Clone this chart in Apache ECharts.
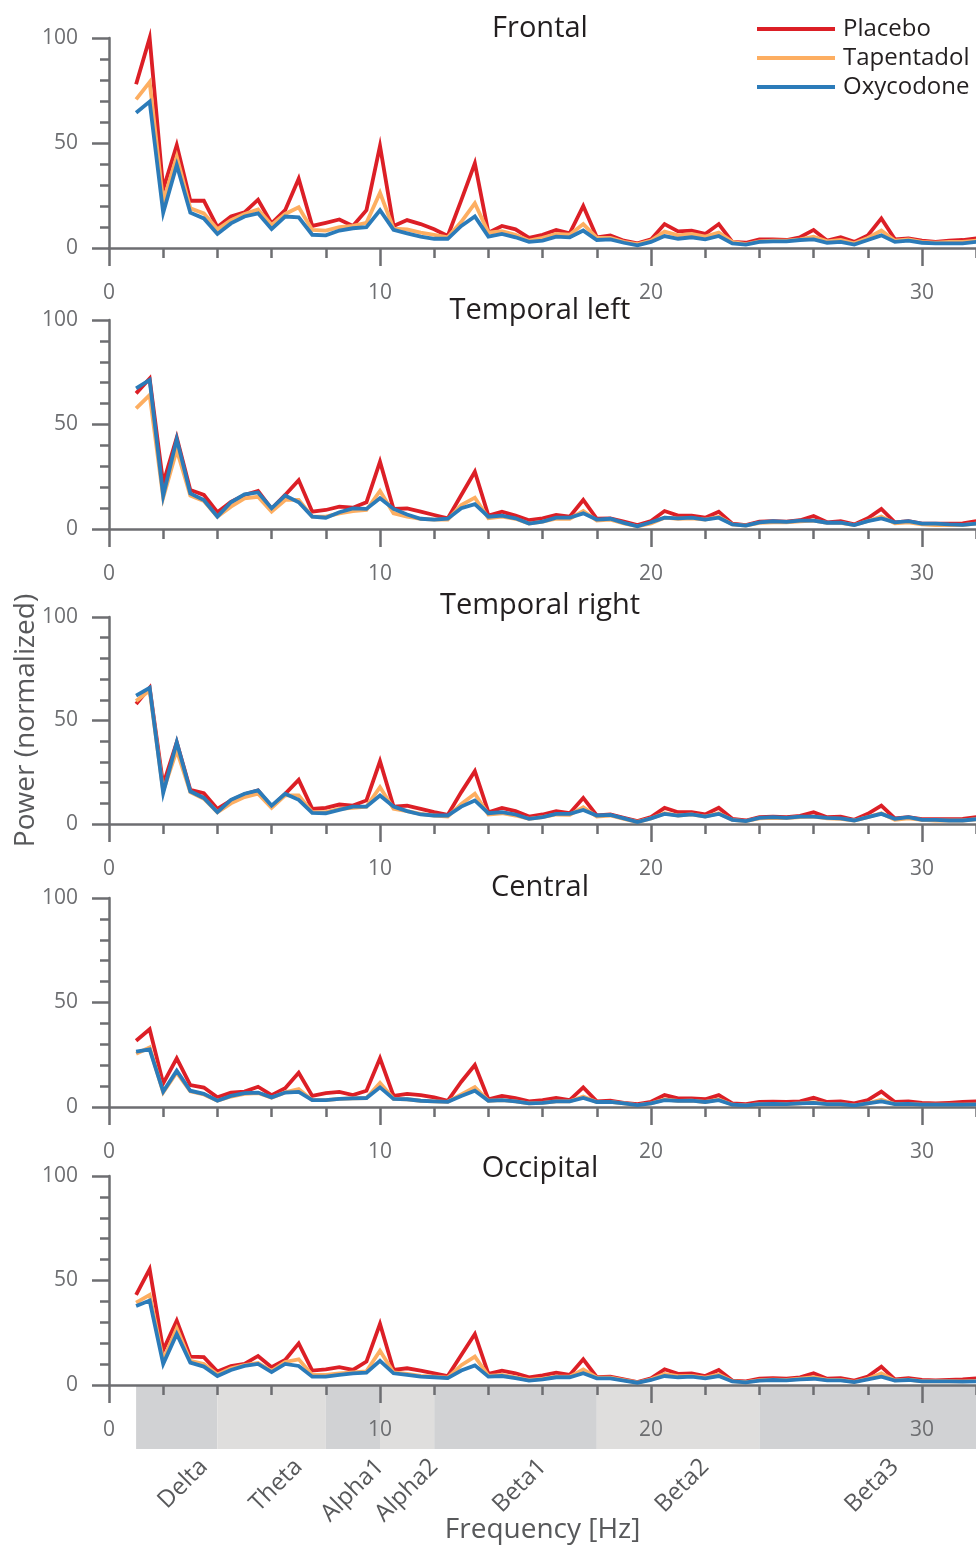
<!DOCTYPE html>
<html>
<head>
<meta charset="utf-8">
<script src="https://cdn.jsdelivr.net/npm/echarts@6/dist/echarts.min.js"></script>
<style>
  html, body { margin: 0; padding: 0; background: #fff; }
  #chart { width: 976px; height: 1546px; }
</style>
</head>
<body>
<div id="chart"></div>
<script>
// frequency bins [Hz]
const freqs = [1, 1.5, 2, 2.5, 3, 3.5, 4, 4.5, 5, 5.5,
  6, 6.5, 7, 7.5, 8, 8.5, 9, 9.5, 10, 10.5,
  11, 11.5, 12, 12.5, 13, 13.5, 14, 14.5, 15, 15.5,
  16, 16.5, 17, 17.5, 18, 18.5, 19, 19.5, 20, 20.5,
  21, 21.5, 22, 22.5, 23, 23.5, 24, 24.5, 25, 25.5,
  26, 26.5, 27, 27.5, 28, 28.5, 29, 29.5, 30, 30.5,
  31, 31.5, 32];

const regions = ['Frontal', 'Temporal left', 'Temporal right', 'Central', 'Occipital'];
const drugs = ['Placebo', 'Tapentadol', 'Oxycodone'];

const frontalPlacebo = [78, 100, 28, 49, 22.5, 22.5, 10, 15, 17, 23,
  11.7, 18, 33, 10.5, 12, 13.6, 10.5, 18, 48.6, 10.5,
  13.3, 11.4, 8.9, 5.7, 22.8, 40.3, 7.3, 10.5, 8.9, 4.8,
  6.3, 8.6, 7, 20, 5.1, 6, 3.5, 2.2, 4.1, 11.4,
  7.9, 8.3, 6.7, 11.4, 2.9, 2.5, 4.1, 4.1, 3.8, 5.1,
  8.6, 3.5, 5.1, 2.9, 6, 14.1, 4.1, 4.6, 3.5, 2.9,
  3.5, 3.8, 4.6];
const frontalTapentadol = [70.8, 79, 22, 43.5, 18.9, 16.5, 8.9, 13.3, 16.2, 18.4,
  11, 16.2, 19.4, 8.6, 8.3, 9.9, 10.5, 12, 26.3, 9.2,
  8.9, 7.3, 6.3, 5.1, 12.5, 21.3, 7.3, 8, 6.3, 3.5,
  4.8, 6.7, 6.3, 11.4, 4.8, 4.8, 2.9, 1.9, 3.5, 7.8,
  6, 6.7, 5.4, 7.3, 2.9, 1.9, 3.2, 3.5, 3.5, 4.1,
  5.4, 3.2, 3.8, 2.2, 4.8, 8.3, 3.5, 4.1, 2.9, 2.5,
  2.9, 2.9, 3.5];
const frontalOxycodone = [64.4, 69.7, 16.8, 39.5, 16.8, 14.1, 6.7, 11.7, 15, 16.5,
  9, 15, 14.6, 6.3, 6, 8.3, 9.4, 9.9, 18, 8.6,
  7, 5.4, 4.4, 4.4, 10.5, 15, 5.4, 6.7, 5.1, 2.9,
  3.5, 5.4, 5.1, 8.3, 3.8, 4.1, 2.5, 1.3, 2.9, 5.7,
  4.4, 5.1, 4.1, 5.7, 2.2, 1.6, 2.9, 3.2, 3.2, 3.8,
  4.1, 2.5, 2.9, 1.6, 3.8, 6, 2.9, 3.5, 2.5, 2.2,
  2.2, 2.2, 2.9];

const temporalLeftPlacebo = [64.9, 72, 21.9, 43.7, 18.7, 16.3, 8, 13, 16.3, 18.2,
  9.6, 16.3, 23.4, 8.3, 9.1, 10.7, 10.2, 12.8, 32.2, 9.6,
  9.9, 8.3, 6.7, 5.1, 16.3, 27.4, 6.4, 8.3, 6.4, 4.2,
  5.1, 6.7, 5.9, 13.9, 4.9, 5.1, 3.5, 1.9, 3.8, 8.6,
  6.4, 6.4, 5.4, 8.3, 2.6, 1.9, 3.5, 3.8, 3.5, 4.2,
  6.2, 3.2, 3.8, 2.2, 5.1, 9.6, 3.2, 3.8, 2.6, 2.6,
  2.6, 2.7, 3.8];
const temporalLeftTapentadol = [57.7, 64.1, 15, 37.8, 16, 13.4, 5.9, 10.7, 14.7, 15.4,
  8.3, 13.9, 13.9, 5.9, 5.9, 7.5, 8.6, 9.1, 18.2, 7.5,
  5.9, 4.9, 4.5, 4.5, 11.5, 15, 5.1, 5.9, 4.9, 2.6,
  3.5, 4.9, 4.9, 8.6, 4, 4.5, 2.7, 1.3, 2.7, 5.4,
  4.9, 5.1, 4.5, 5.9, 2.2, 1.6, 2.9, 3.2, 3.2, 3.7,
  4, 2.9, 2.9, 1.9, 3.8, 5.9, 2.7, 3.2, 2.2, 1.9,
  1.9, 1.9, 2.6];
const temporalLeftOxycodone = [67.3, 71.3, 16, 43, 17, 13.9, 5.9, 12.8, 16.6, 17.5,
  9.9, 16, 12.8, 5.9, 5.4, 8, 9.9, 9.6, 14.7, 9.6,
  6.9, 4.9, 4.5, 4.9, 9.9, 11.9, 5.9, 6.4, 5.1, 2.6,
  3.5, 5.4, 5.4, 7.5, 4.5, 4.9, 2.9, 1.3, 3.2, 5.4,
  5.1, 5.4, 4.5, 5.4, 2.2, 1.6, 3.2, 3.7, 3.4, 4,
  4, 3, 3, 1.9, 3.8, 5.1, 3.2, 3.8, 2.6, 2.6,
  2.2, 2, 2.6];

const temporalRightPlacebo = [58, 65.8, 19, 39.5, 16.5, 14.9, 7.3, 11.4, 14.3, 16.2,
  8.4, 14.6, 21.3, 7.3, 7.8, 9.4, 8.9, 11.4, 30.3, 8.4,
  8.9, 7.3, 5.7, 4.4, 15.4, 25.5, 5.7, 7.8, 6.2, 3.6,
  4.6, 6.2, 5.2, 12.6, 4.1, 4.6, 3, 1.4, 3.3, 7.8,
  5.7, 5.7, 4.6, 7.8, 2.5, 1.7, 3.3, 3.6, 3.3, 3.9,
  5.7, 3.3, 3.6, 2, 4.9, 8.9, 2.7, 3.3, 2.3, 2.3,
  2.3, 2.5, 3.3];
const temporalRightTapentadol = [59.4, 64.5, 16, 35.5, 15.4, 12.2, 5.7, 10, 13, 14.6,
  7.8, 13.8, 13.8, 5.7, 5.7, 7.3, 7.8, 8.4, 17.8, 7.3,
  6.2, 4.9, 4.1, 3.6, 9.7, 14.6, 4.6, 5.2, 4.1, 2.5,
  3.3, 4.6, 4.4, 8.1, 3.6, 4.1, 2.5, 1, 2.7, 5.2,
  4.1, 4.6, 3.6, 5.2, 2, 1.4, 2.7, 3, 2.8, 3.3,
  3.6, 2.7, 2.5, 1.7, 3.3, 5.2, 2, 2.7, 2, 1.7,
  1.7, 1.7, 2.3];
const temporalRightOxycodone = [62, 65.8, 15, 39.5, 15.8, 12.6, 5.7, 11.7, 14.6, 16.2,
  8.9, 14.6, 11.7, 5.4, 5.2, 6.8, 8.4, 8.4, 13.8, 8.4,
  6.2, 4.6, 4.1, 4.1, 8.4, 11.4, 5.2, 5.7, 4.6, 2.5,
  3.3, 4.9, 4.9, 6.8, 4.1, 4.4, 2.7, 0.9, 2.7, 4.9,
  4.1, 4.6, 3.6, 4.9, 2, 1.4, 3, 3.3, 3, 3.6,
  3.6, 3, 2.7, 1.7, 3.3, 4.9, 2.5, 3.3, 2, 2,
  1.7, 1.7, 2.3];

const centralPlacebo = [31.7, 37.2, 11.3, 23.3, 10.5, 9.3, 4.6, 6.9, 7.4, 9.7,
  5.7, 9, 16.4, 5.3, 6.6, 7.2, 5.7, 7.8, 23.3, 5.3,
  6.3, 5.7, 4.6, 3, 12.1, 20.1, 3.7, 5.3, 4.3, 2.7,
  3.3, 4.3, 3.3, 9.4, 2.7, 3, 2, 1.4, 2.5, 5.7,
  4.1, 4.1, 3.7, 5.7, 1.7, 1.4, 2.4, 2.5, 2.4, 2.7,
  4.4, 2.4, 2.7, 1.7, 3.3, 7.4, 2.4, 2.7, 2, 1.7,
  2, 2.4, 2.7];
const centralTapentadol = [25.5, 28.5, 7, 16.5, 7.5, 6, 3, 5, 6.3, 6.7,
  4.4, 7, 8.6, 3.3, 3.3, 3.9, 4.1, 4.3, 11.5, 3.9,
  3.7, 3, 2.7, 2.5, 6, 9.5, 3, 3.3, 2.7, 1.7,
  2, 2.7, 2.7, 5, 2.4, 2.4, 1.7, 0.9, 1.7, 3.6,
  2.9, 3, 2.4, 3.6, 1.1, 0.8, 1.4, 1.5, 1.4, 1.7,
  2.3, 1.4, 1.4, 0.8, 1.7, 3.5, 1.4, 1.5, 1.1, 1.1,
  1.1, 1.1, 1.3];
const centralOxycodone = [26.5, 27.6, 7.4, 17.4, 7.8, 6.3, 3, 5.3, 6.6, 6.9,
  4.6, 6.9, 7.2, 3.3, 3.3, 3.9, 4.1, 4.3, 9.4, 3.9,
  3.7, 3, 2.7, 2.5, 5.3, 7.8, 3, 3.3, 2.7, 1.7,
  2, 2.7, 2.7, 4.3, 2.4, 2.4, 1.7, 0.9, 1.7, 3.3,
  2.9, 3, 2.4, 3.3, 1.1, 0.8, 1.4, 1.5, 1.4, 1.7,
  2, 1.4, 1.4, 0.8, 1.7, 2.7, 1.4, 1.5, 1.1, 1.1,
  1.1, 1.1, 1.3];

const occipitalPlacebo = [43.1, 55.4, 16.7, 30.8, 13.6, 13.3, 6.4, 9.1, 10.1, 13.9,
  8.5, 12, 19.9, 6.9, 7.5, 8.5, 7.2, 11.2, 29.2, 7.2,
  8, 6.9, 5.6, 4.3, 14.4, 24.4, 5.3, 6.9, 5.6, 3.7,
  4.6, 5.9, 4.8, 12.3, 3.7, 4, 2.7, 1.4, 3.2, 7.5,
  5.3, 5.6, 4.3, 7.2, 2.1, 1.7, 3, 3.3, 3, 3.7,
  5.6, 3, 3.3, 2.1, 4, 8.8, 2.7, 3.3, 2.4, 2.2,
  2.4, 2.7, 3.2];
const occipitalTapentadol = [39.4, 43.1, 12, 27.1, 11.5, 10, 5, 8, 9.5, 10.5,
  6.8, 11, 12.3, 4.8, 4.8, 5.6, 6, 6.5, 16.4, 6,
  5.3, 4.4, 4, 3.5, 9.5, 13.6, 4.4, 4.8, 3.7, 2.4,
  3, 4, 4, 7.5, 3.5, 3.5, 2.3, 1.2, 2.7, 5.3,
  4.2, 4.4, 3.5, 5, 1.8, 1.4, 2.3, 2.6, 2.4, 3,
  3.7, 2.4, 2.4, 1.5, 3, 5.6, 2.2, 2.6, 1.8, 1.8,
  1.8, 1.7, 2];
const occipitalOxycodone = [37.8, 40.4, 10.1, 24.4, 10.7, 8.8, 4.3, 7.2, 9.1, 10.1,
  6.2, 10.1, 9.1, 4, 4, 4.8, 5.6, 5.9, 11.6, 5.6,
  4.8, 4, 3.7, 3.3, 6.9, 9.4, 4, 4.3, 3.3, 2.1,
  2.7, 3.7, 3.7, 5.6, 3.2, 3.2, 2.1, 1.1, 2.4, 4.3,
  3.7, 4, 3.2, 4.3, 1.7, 1.3, 2.1, 2.4, 2.2, 2.7,
  3, 2.2, 2.2, 1.4, 2.7, 4, 2.1, 2.4, 1.7, 1.7,
  1.7, 1.6, 1.7];

// EEG frequency bands [Hz]
const bandNames = ['Delta', 'Theta', 'Alpha1', 'Alpha2', 'Beta1', 'Beta2', 'Beta3'];
const bandStart = [1, 4, 8, 10, 12, 18, 24];
const bandEnd = [4, 8, 10, 12, 18, 24, 32];

const xTicks = [0, 10, 20, 30];
const yTicks = [0, 50, 100];

const panelData = [
  [frontalPlacebo, frontalTapentadol, frontalOxycodone],
  [temporalLeftPlacebo, temporalLeftTapentadol, temporalLeftOxycodone],
  [temporalRightPlacebo, temporalRightTapentadol, temporalRightOxycodone],
  [centralPlacebo, centralTapentadol, centralOxycodone],
  [occipitalPlacebo, occipitalTapentadol, occipitalOxycodone]
];

// layout
const colors = ['#dc1f26', '#fdae61', '#2b7bb9'];
const gray = '#6d6e71';
const darkText = '#231f20';
const nameGray = '#58595b';
const bandColors = ['#d1d2d4', '#dfdedd'];
const plotLeft = 109;
const pxPerHz = 27.1;
const xMax = 40;      // axis runs past the canvas edge, 32 Hz sits at the right border
const xVisible = 32;
const panelTop = [38, 320, 617, 898, 1176];
const panelHeight = [210, 209, 207, 209, 209];
const titleMid = [29, 311, 606, 888, 1169];
const labelShift = 1.0;

const chart = echarts.init(document.getElementById('chart'), null, { renderer: 'canvas' });

const grids = [];
const xAxes = [];
const yAxes = [];
const series = [];
const titles = [];

const tickLine = { color: gray, width: 2.5 };

regions.forEach((name, p) => {
  grids.push({
    left: plotLeft, top: panelTop[p],
    width: pxPerHz * xMax, height: panelHeight[p],
    outerBoundsMode: 'none', containLabel: false
  });
  xAxes.push({
    type: 'value', gridIndex: p, min: 0, max: xMax, interval: 10, z: 5,
    axisLine: { show: true, onZero: false, lineStyle: tickLine },
    axisTick: { show: true, length: 18, lineStyle: tickLine },
    minorTick: { show: true, splitNumber: 5, length: 10, lineStyle: tickLine },
    splitLine: { show: false },
    axisLabel: {
      customValues: xTicks, margin: 35, fontSize: 21, color: gray,
      fontFamily: 'Open Sans'
    }
  });
  const y = {
    type: 'value', gridIndex: p, min: 0, max: 100, interval: 50,
    axisLine: { show: true, onZero: false, lineStyle: tickLine },
    axisTick: { show: true, length: 17, lineStyle: tickLine },
    minorTick: { show: true, splitNumber: 5, length: 9, lineStyle: tickLine },
    splitLine: { show: false },
    axisLabel: {
      customValues: yTicks, margin: 31, fontSize: 21, color: gray,
      fontFamily: 'Open Sans'
    }
  };
  if (p === 2) {
    Object.assign(y, {
      name: 'Power (normalized)', nameLocation: 'middle', nameGap: 69,
      nameMoveOverlap: false,
      nameTextStyle: { fontSize: 28, color: nameGray, fontFamily: 'Open Sans' }
    });
  }
  yAxes.push(y);
  titles.push({
    text: name, left: 540, top: titleMid[p] - 16, textAlign: 'center', padding: 0,
    textStyle: { fontSize: 29, fontWeight: 'normal', color: darkText, lineHeight: 32, fontFamily: 'Open Sans' }
  });
  drugs.forEach((drug, d) => {
    series.push({
      name: drug, type: 'line', xAxisIndex: p, yAxisIndex: p,
      data: freqs.map((f, i) => [f, panelData[p][d][i]]),
      symbol: 'none', clip: false, z: 3 + d,
      lineStyle: { color: colors[d], width: 3.8, join: 'miter' },
      itemStyle: { color: colors[d] }
    });
  });
});

// band strip under the last panel
const bandGrid = regions.length;
const bandCenters = bandStart.map((s, i) => (s + bandEnd[i]) / 2);
grids.push({
  left: plotLeft, top: 1386, width: pxPerHz * xVisible, height: 63,
  outerBoundsMode: 'none', containLabel: false
});
xAxes.push({
  type: 'value', gridIndex: bandGrid, min: 0, max: xVisible,
  axisLine: { show: false }, axisTick: { show: false }, splitLine: { show: false },
  axisLabel: {
    customValues: bandCenters.map(c => c + labelShift),
    formatter: v => {
      let best = 0;
      bandCenters.forEach((c, i) => {
        if (Math.abs(c + labelShift - v) < Math.abs(bandCenters[best] + labelShift - v)) best = i;
      });
      return bandNames[best];
    },
    rotate: 45, margin: 14, fontSize: 24, color: nameGray, fontFamily: 'Open Sans'
  },
  name: 'Frequency [Hz]', nameLocation: 'middle', nameGap: 67, nameMoveOverlap: false,
  nameTextStyle: { fontSize: 28, color: nameGray, fontFamily: 'Open Sans' }
});
yAxes.push({ type: 'value', gridIndex: bandGrid, min: 0, max: 1, show: false });
series.push({
  type: 'custom', xAxisIndex: bandGrid, yAxisIndex: bandGrid, z: 1, silent: true,
  data: bandStart.map((s, i) => [s, bandEnd[i], i]),
  encode: { x: [0, 1] },
  renderItem: (params, api) => {
    const a = api.coord([api.value(0), 1]);
    const b = api.coord([api.value(1), 0]);
    return {
      type: 'rect',
      shape: { x: a[0], y: a[1], width: b[0] - a[0], height: b[1] - a[1] },
      style: { fill: bandColors[api.value(2) % 2] }
    };
  }
});

chart.setOption({
  backgroundColor: '#ffffff',
  animation: false,
  textStyle: { fontFamily: 'Open Sans' },
  title: titles,
  legend: {
    data: drugs.map(d => ({ name: d, icon: 'rect' })),
    orient: 'vertical', left: 757, top: 17, padding: 0,
    itemWidth: 78, itemHeight: 4, itemGap: 5,
    textStyle: { fontSize: 24, color: darkText, lineHeight: 24, padding: [0, 0, 0, 3], fontFamily: 'Open Sans' }
  },
  grid: grids,
  xAxis: xAxes,
  yAxis: yAxes,
  series: series
});
</script>
</body>
</html>
